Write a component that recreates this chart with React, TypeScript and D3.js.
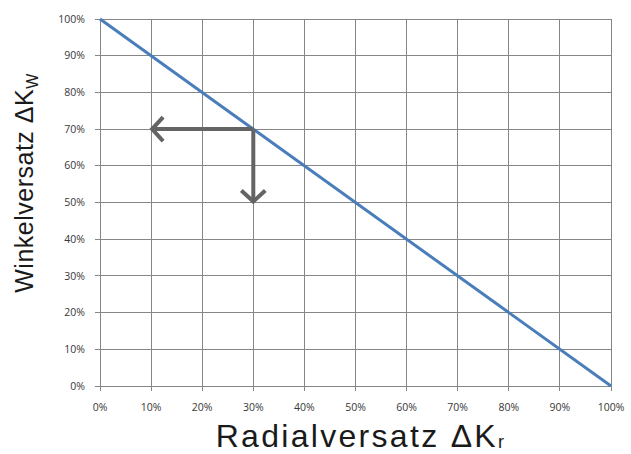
import React from 'react';
import * as d3 from 'd3';

// Values
const xTicks = [0, 10, 20, 30, 40, 50, 60, 70, 80, 90, 100];
const yTicks = [0, 10, 20, 30, 40, 50, 60, 70, 80, 90, 100];
const lineX = [0, 100];
const lineY = [100, 0];
// example reading: from the line point down and to the left
const readX = [30];
const readY = [70];
const arrowLeftTo = [10];
const arrowDownTo = [50];

const W = 631;
const H = 454;
const margin = { top: 19, right: 20, bottom: 68, left: 100 };

export default function App() {
  const innerW = 511;
  const innerH = 367;
  const x = d3.scaleLinear().domain([0, 100]).range([margin.left, margin.left + innerW]);
  const y = d3.scaleLinear().domain([0, 100]).range([margin.top + innerH, margin.top]);
  const line = d3.line<number>().x((_, i) => x(lineX[i])).y((d) => y(d));

  const grid = '#868686';
  const arrowCol = '#646464';
  const px = x(readX[0]);
  const py = y(readY[0]);
  const lx = x(arrowLeftTo[0]);
  const dy = y(arrowDownTo[0]);
  const head = 12;
  const titleFont = "'Liberation Sans', Arial, sans-serif";

  return (
    <svg width={W} height={H} style={{ position: 'absolute', left: 0, top: 0, background: '#fff' }}>
      {/* gridlines */}
      {xTicks.map((t) => (
        <line key={'gx' + t} x1={x(t)} x2={x(t)} y1={y(100)} y2={y(0) + 5} stroke={grid} strokeWidth={1} shapeRendering="crispEdges" />
      ))}
      {yTicks.map((t) => (
        <line key={'gy' + t} x1={x(0) - 5} x2={x(100)} y1={y(t)} y2={y(t)} stroke={grid} strokeWidth={1} shapeRendering="crispEdges" />
      ))}
      {/* tick labels */}
      {yTicks.map((t) => (
        <text key={'ly' + t} x={x(0) - 15} y={y(t)} dy="0.35em" textAnchor="end" fontFamily="'Open Sans', sans-serif" fontSize={10.5} fill="#383838">
          {t}%
        </text>
      ))}
      {xTicks.map((t) => (
        <text key={'lx' + t} x={x(t)} y={y(0) + 25} textAnchor="middle" fontFamily="'Open Sans', sans-serif" fontSize={10.5} fill="#383838">
          {t}%
        </text>
      ))}
      {/* data line */}
      <path d={line(lineY) || ''} fill="none" stroke="#4a7ebb" strokeWidth={3} />
      {/* reading arrows */}
      <g stroke={arrowCol} strokeWidth={4} fill="none" strokeLinecap="butt" strokeLinejoin="miter">
        <path d={`M${px},${py}H${lx + 1}`} />
        <path d={`M${lx + head},${py - head}L${lx + 1},${py}L${lx + head},${py + head}`} />
        <path d={`M${px},${py}V${dy - 1}`} />
        <path d={`M${px - head},${dy - head}L${px},${dy - 1}L${px + head},${dy - head}`} />
      </g>
      {/* axis titles */}
      <text x={361} y={447} textAnchor="middle" fontFamily={titleFont} fontSize={32} letterSpacing={2.3} fill="#1a1a1a">
        Radialversatz ΔK
        <tspan fontSize={18} dy={1}>r</tspan>
      </text>
      <text transform={`translate(33,183) rotate(-90)`} textAnchor="middle" fontFamily={titleFont} fontSize={25} letterSpacing={0.5} fill="#1a1a1a">
        Winkelversatz ΔK
        <tspan fontSize={16} dy={5}>W</tspan>
      </text>
    </svg>
  );
}
